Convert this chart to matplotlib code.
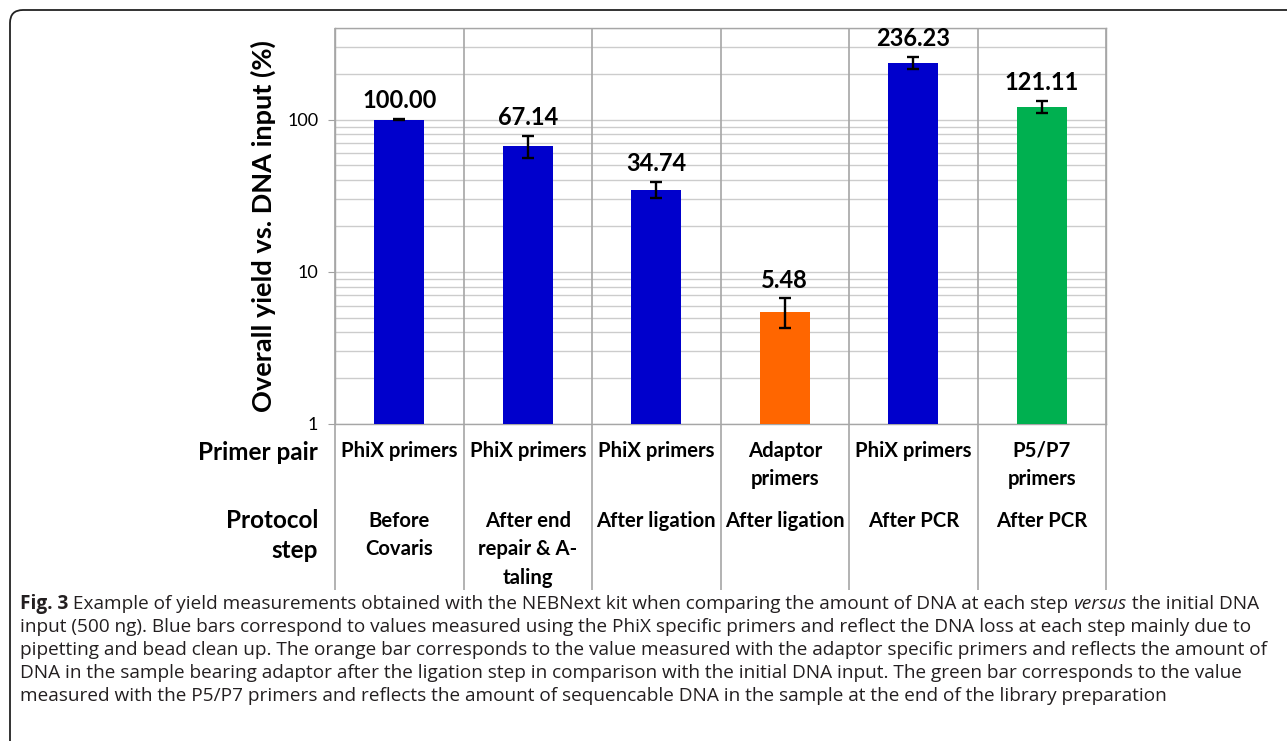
import matplotlib.pyplot as plt
import numpy as np
from matplotlib import transforms
from matplotlib.patches import FancyBboxPatch
from matplotlib.ticker import LogLocator, FixedLocator, NullFormatter

primer_pair = ['PhiX primers', 'PhiX primers', 'PhiX primers',
               'Adaptor\nprimers', 'PhiX primers', 'P5/P7\nprimers']
protocol_step = ['Before\nCovaris', 'After end\nrepair & A-\ntaling', 'After ligation',
                 'After ligation', 'After PCR', 'After PCR']
yield_pct = [100.00, 67.14, 34.74, 5.48, 236.23, 121.11]
yield_err = [0.5, 11.5, 4.4, 1.2, 22.0, 11.0]
bar_colors = ['#0000CC', '#0000CC', '#0000CC', '#FF6600', '#0000CC', '#00B050']

caption_lines = [
    [('Fig. 3', 'bold', 'normal'),
     (' Example of yield measurements obtained with the NEBNext kit when comparing the amount of DNA at each step ', 'normal', 'normal'),
     ('versus', 'normal', 'italic'),
     (' the initial DNA', 'normal', 'normal')],
    [('input (500 ng). Blue bars correspond to values measured using the PhiX specific primers and reflect the DNA loss at each step mainly due to', 'normal', 'normal')],
    [('pipetting and bead clean up. The orange bar corresponds to the value measured with the adaptor specific primers and reflects the amount of', 'normal', 'normal')],
    [('DNA in the sample bearing adaptor after the ligation step in comparison with the initial DNA input. The green bar corresponds to the value', 'normal', 'normal')],
    [('measured with the P5/P7 primers and reflects the amount of sequencable DNA in the sample at the end of the library preparation', 'normal', 'normal')],
]

W, H = 1287, 741
plt.rcParams['font.family'] = ['Lato', 'DejaVu Sans']

fig = plt.figure(figsize=(W / 100, H / 100), dpi=100)

# rounded frame around figure + caption
frame = FancyBboxPatch((0.10, -0.6), 13.5, 7.31 + 0.6, boxstyle='round,pad=0,rounding_size=0.13',
                       transform=fig.dpi_scale_trans, fill=False, ec='#222222', lw=1.3)
fig.patches.append(frame)

ax = fig.add_axes([335 / W, 1 - 424 / H, (1106 - 335) / W, (424 - 28) / H])
ax.set_yscale('log')

x = np.arange(len(yield_pct))
ax.bar(x, yield_pct, width=0.39, color=bar_colors, zorder=3)
ax.errorbar(x, yield_pct, yerr=yield_err, fmt='none', ecolor='black',
            elinewidth=1.7, capsize=4, capthick=1.7, zorder=4)

for xi, v, e in zip(x, yield_pct, yield_err):
    ax.annotate(f'{v:.2f}', (xi, v + e), xytext=(0, 5), textcoords='offset points',
                ha='center', va='bottom', fontsize=17, fontweight='bold', color='black')

ax.set_ylim(1, 400)
ax.set_xlim(-0.5, 5.5)
ax.set_xticks([])
ax.yaxis.set_major_locator(FixedLocator([1, 10, 100]))
ax.yaxis.set_major_formatter(plt.FuncFormatter(lambda v, p: f'{v:g}'))
ax.yaxis.set_minor_locator(LogLocator(base=10, subs=np.arange(2, 10)))
ax.yaxis.set_minor_formatter(NullFormatter())
ax.tick_params(axis='y', which='major', length=5, color='#a0a0a0', labelsize=13, pad=7)
ax.tick_params(axis='y', which='minor', length=0)
ax.yaxis.grid(True, which='both', color='#cccccc', lw=1.0, zorder=0)
ax.set_axisbelow(True)
for s in ax.spines.values():
    s.set_color('#a6a6a6')
    s.set_linewidth(1.0)

ax.set_ylabel('Overall yield vs. DNA input (%)', fontsize=19.5, fontweight='bold', labelpad=8)

# column separators running through the label table
ax.vlines(np.arange(-0.5, 6.0, 1.0), -0.419, 1, transform=ax.get_xaxis_transform(),
          colors='#a6a6a6', lw=1.2, clip_on=False, zorder=1)

# label table under the bars
trans = transforms.blended_transform_factory(ax.transData, fig.transFigure)
fig.text(318 / W, 1 - 453 / H, 'Primer pair', ha='right', va='center',
         fontsize=17.5, fontweight='bold')
fig.text(318 / W, 1 - 509 / H, 'Protocol\nstep', ha='right', va='top', multialignment='right',
         fontsize=17.5, fontweight='bold', linespacing=1.37)
for xi, pp, ps in zip(x, primer_pair, protocol_step):
    fig.text(xi, 1 - 441 / H, pp, transform=trans, ha='center', va='top',
             fontsize=14.6, fontweight='bold', linespacing=1.53)
    fig.text(xi, 1 - 511 / H, ps, transform=trans, ha='center', va='top',
             fontsize=14.6, fontweight='bold', linespacing=1.53)

# caption, set run by run so bold / italic words sit inline
fig.canvas.draw()
renderer = fig.canvas.get_renderer()
cap_kw = dict(fontsize=13.7, color='#231f20', va='center', ha='left',
              family=['Open Sans', 'DejaVu Sans'])
for i, runs in enumerate(caption_lines):
    xpos = 20
    ypos = 1 - (604 + 23 * i) / H
    for txt, weight, style in runs:
        t = fig.text(xpos / W, ypos, txt, fontweight=weight, fontstyle=style, **cap_kw)
        xpos += t.get_window_extent(renderer).width

fig.savefig('out.png', dpi=100)
